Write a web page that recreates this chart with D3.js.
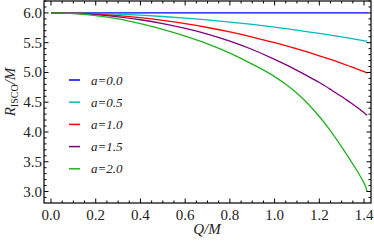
<!DOCTYPE html>
<html>
<head>
<meta charset="utf-8">
<script src="https://cdn.jsdelivr.net/npm/d3@7"></script>
<style>
  html, body { margin: 0; padding: 0; background: #fff; }
  svg { display: block; }
  svg text { font-family: "Liberation Serif", "DejaVu Serif", "Noto Serif", serif; fill: #222; }
</style>
</head>
<body>
<svg id="chart" width="374" height="246"></svg>
<script>
// Q/M sample points
const qValues = [0, 0.1, 0.2, 0.3, 0.4, 0.5, 0.6, 0.7, 0.8, 0.9, 1.0, 1.05, 1.1, 1.15, 1.2, 1.25, 1.3, 1.34, 1.37, 1.39, 1.405, 1.414];

const spins = ["a=0.0", "a=0.5", "a=1.0", "a=1.5", "a=2.0"];
const colors = ["#0000ff", "#00bcbc", "#ff0000", "#800080", "#1fb21f"];

// R_ISCO/M for each a, at the qValues above
const rA00 = [6, 6, 6, 6, 6, 6, 6, 6, 6, 6, 6, 6, 6, 6, 6, 6, 6, 6, 6, 6, 6, 6];
const rA05 = [6, 5.998, 5.99, 5.978, 5.962, 5.94, 5.914, 5.882, 5.846, 5.806, 5.76, 5.736, 5.71, 5.683, 5.655, 5.626, 5.596, 5.571, 5.552, 5.539, 5.529, 5.523];
const rA10 = [6, 5.995, 5.98, 5.955, 5.92, 5.875, 5.82, 5.755, 5.68, 5.595, 5.5, 5.45, 5.397, 5.34, 5.28, 5.218, 5.153, 5.098, 5.056, 5.027, 5.005, 4.99];
const rA15 = [6, 5.993, 5.97, 5.935, 5.885, 5.82, 5.74, 5.645, 5.525, 5.385, 5.22, 5.13, 5.035, 4.935, 4.83, 4.715, 4.595, 4.49, 4.41, 4.353, 4.308, 4.28];
const rA20 = [6, 5.99, 5.955, 5.9, 5.82, 5.725, 5.61, 5.48, 5.325, 5.14, 4.93, 4.8, 4.65, 4.47, 4.26, 4.02, 3.75, 3.52, 3.34, 3.21, 3.1, 3.0];
const seriesValues = [rA00, rA05, rA10, rA15, rA20];

const xTicks = [0, 0.2, 0.4, 0.6, 0.8, 1.0, 1.2, 1.4];
const yTicks = [3.0, 3.5, 4.0, 4.5, 5.0, 5.5, 6.0];

const svg = d3.select("#chart");
const plotL = 44, plotR = 371, plotT = 1, plotB = 203;

const x = d3.scaleLinear().domain([-0.0313, 1.4311]).range([plotL, plotR]);
const y = d3.scaleLinear().domain([2.807, 6.2]).range([plotB, plotT]);

// curves
const line = d3.line()
  .x((d, i) => x(qValues[i]))
  .y(d => y(d))
  .curve(d3.curveMonotoneX);

svg.append("g").selectAll("path")
  .data(seriesValues)
  .join("path")
  .attr("d", d => line(d))
  .attr("fill", "none")
  .attr("stroke", (d, i) => colors[i])
  .attr("stroke-width", 1.3);

// frame + ticks on all four sides, pointing inward
const minorX = d3.range(0, 1.43, 0.05);
const minorY = d3.range(2.9, 6.21, 0.1);
const frame = svg.append("g").attr("stroke", "#000");

frame.append("rect")
  .attr("x", plotL).attr("y", plotT)
  .attr("width", plotR - plotL).attr("height", plotB - plotT)
  .attr("fill", "none").attr("stroke-width", 1.2);

function isMajor(v, step) { return Math.abs(v / step - Math.round(v / step)) < 1e-6; }

minorX.forEach(v => {
  const len = isMajor(v, 0.2) ? 4.5 : 2.5;
  frame.append("line").attr("x1", x(v)).attr("x2", x(v)).attr("y1", plotB).attr("y2", plotB - len).attr("stroke-width", 1);
  frame.append("line").attr("x1", x(v)).attr("x2", x(v)).attr("y1", plotT).attr("y2", plotT + len).attr("stroke-width", 1);
});
minorY.forEach(v => {
  if (y(v) > plotB || y(v) < plotT) return;
  const len = isMajor(v, 0.5) ? 4.5 : 2.5;
  frame.append("line").attr("y1", y(v)).attr("y2", y(v)).attr("x1", plotL).attr("x2", plotL + len).attr("stroke-width", 1);
  frame.append("line").attr("y1", y(v)).attr("y2", y(v)).attr("x1", plotR).attr("x2", plotR - len).attr("stroke-width", 1);
});

// tick labels
svg.append("g").selectAll("text")
  .data(xTicks)
  .join("text")
  .attr("x", d => x(d))
  .attr("y", 220)
  .attr("text-anchor", "middle")
  .style("font-size", "15px")
  .text(d => d.toFixed(1));

svg.append("g").selectAll("text")
  .data(yTicks)
  .join("text")
  .attr("x", 42)
  .attr("y", d => y(d) + 5)
  .attr("text-anchor", "end")
  .style("font-size", "15px")
  .text(d => d.toFixed(1));

// axis titles
svg.append("text")
  .attr("x", 207).attr("y", 234)
  .attr("text-anchor", "middle")
  .style("font-size", "15px")
  .style("font-style", "italic")
  .text("Q/M");

const yt = svg.append("text")
  .attr("transform", "translate(15,92) rotate(-90)")
  .attr("text-anchor", "middle")
  .style("font-size", "15px");
yt.append("tspan").style("font-style", "italic").text("R");
yt.append("tspan").style("font-size", "10px").attr("dy", 3).text("ISCO");
yt.append("tspan").style("font-style", "italic").attr("dy", -3).text("/M");

// legend
const legend = svg.append("g").selectAll("g")
  .data(spins)
  .join("g")
  .attr("transform", (d, i) => `translate(0,${80 + i * 22.2})`);

legend.append("line")
  .attr("x1", 69).attr("x2", 80)
  .attr("stroke", (d, i) => colors[i])
  .attr("stroke-width", 1.5);

legend.append("text")
  .attr("x", 91).attr("y", 4.5)
  .style("font-size", "13px")
  .style("font-style", "italic")
  .text(d => d);
</script>
</body>
</html>
